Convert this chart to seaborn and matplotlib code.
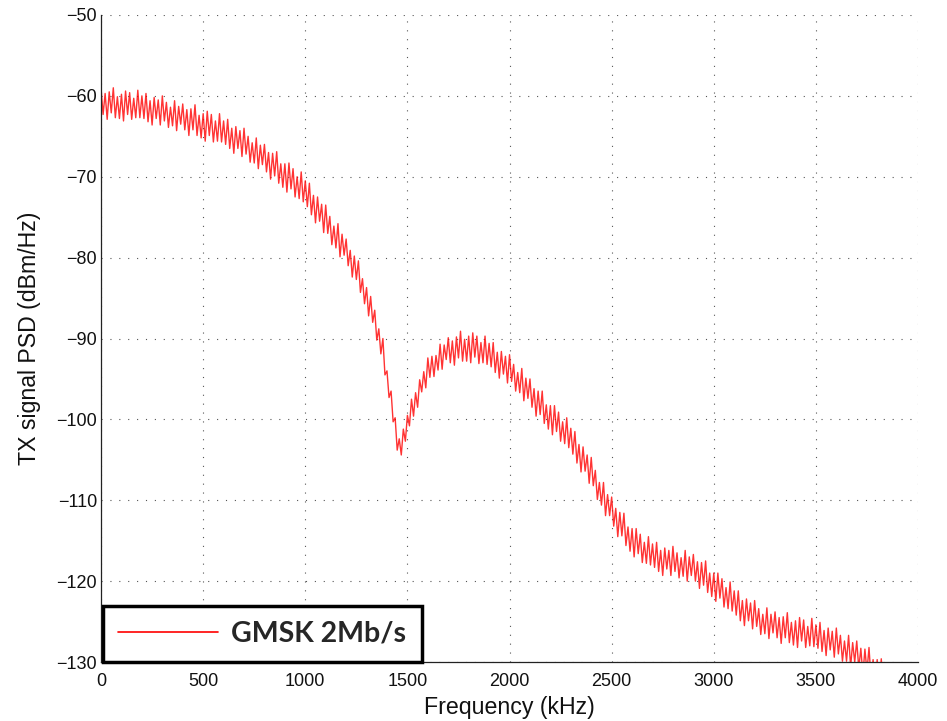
import numpy as np
import matplotlib
matplotlib.use("Agg")
import matplotlib.pyplot as plt
import seaborn as sns

freq_khz = np.arange(0, 3841, 10)
psd_dbm = [
    -59.1, -62.3, -59.7, -62.9, -59.5, -62.1, -59.0, -62.7, -60.1, -62.8,
    -59.8, -63.1, -59.4, -62.3, -59.6, -62.9, -60.3, -62.7, -59.3, -62.7,
    -60.0, -62.8, -59.7, -63.2, -60.6, -63.6, -60.2, -62.8, -60.5, -63.6,
    -60.0, -63.1, -60.8, -63.9, -61.4, -63.7, -60.6, -64.3, -61.3, -63.5,
    -61.0, -64.2, -61.7, -64.9, -61.6, -64.2, -61.1, -64.9, -62.4, -65.2,
    -62.2, -65.6, -61.9, -64.9, -62.3, -65.7, -63.1, -65.6, -62.2, -65.7,
    -63.1, -66.0, -62.9, -66.5, -64.0, -67.1, -63.8, -66.5, -64.3, -67.5,
    -64.0, -67.2, -65.0, -68.2, -65.8, -68.3, -65.2, -69.0, -66.1, -68.5,
    -66.0, -69.4, -67.0, -70.3, -67.1, -69.9, -66.9, -70.8, -68.4, -71.3,
    -68.4, -71.9, -68.3, -71.5, -69.0, -72.5, -70.0, -72.7, -69.4, -73.1,
    -70.5, -73.7, -70.8, -74.7, -72.3, -75.7, -72.5, -75.5, -73.4, -76.9,
    -73.5, -77.0, -74.9, -78.4, -76.1, -78.8, -75.8, -79.9, -77.1, -79.7,
    -77.7, -81.0, -79.1, -82.4, -79.8, -82.7, -80.4, -84.3, -82.6, -85.7,
    -83.7, -87.2, -84.8, -88.0, -86.5, -90.2, -88.8, -91.9, -90.0, -94.5,
    -94.0, -97.3, -96.5, -100.3, -99.8, -103.8, -102.4, -104.4, -101.2, -102.7,
    -99.5, -100.8, -97.5, -99.6, -96.7, -98.5, -95.1, -96.6, -94.1, -96.1,
    -92.4, -94.8, -92.2, -94.7, -92.1, -93.9, -90.7, -93.8, -90.8, -92.6,
    -89.9, -93.0, -90.3, -93.3, -89.8, -92.4, -89.1, -92.8, -90.1, -92.8,
    -89.7, -93.0, -89.3, -92.3, -89.7, -93.1, -90.5, -93.0, -89.7, -93.2,
    -90.6, -93.5, -90.5, -94.2, -91.7, -94.9, -91.6, -94.4, -92.2, -95.5,
    -92.0, -95.3, -93.2, -96.5, -94.2, -96.7, -93.7, -97.7, -94.9, -97.4,
    -95.0, -98.5, -96.2, -99.6, -96.5, -99.4, -96.5, -100.5, -98.2, -101.2,
    -98.3, -101.9, -98.3, -101.5, -99.1, -102.7, -100.3, -103.0, -99.8, -103.5,
    -101.1, -104.3, -101.5, -105.4, -103.1, -106.5, -103.4, -106.4, -104.4, -107.9,
    -104.7, -108.2, -106.3, -109.9, -107.8, -110.6, -107.8, -111.9, -109.3, -111.9,
    -109.6, -113.2, -111.0, -114.5, -111.5, -114.4, -111.6, -115.6, -113.3, -116.3,
    -113.5, -117.0, -113.5, -116.6, -114.2, -117.7, -115.2, -117.8, -114.5, -118.0,
    -115.4, -118.3, -115.2, -118.8, -116.2, -119.3, -115.9, -118.5, -116.2, -119.3,
    -115.7, -118.8, -116.5, -119.6, -117.1, -119.4, -116.2, -120.0, -117.0, -119.3,
    -116.7, -120.0, -117.6, -120.9, -117.7, -120.5, -117.5, -121.4, -119.0, -121.9,
    -119.0, -122.5, -119.0, -122.1, -119.7, -123.2, -120.8, -123.4, -120.1, -123.7,
    -121.2, -124.2, -121.2, -124.9, -122.4, -125.5, -122.2, -124.9, -122.7, -125.9,
    -122.4, -125.6, -123.4, -126.6, -124.1, -126.5, -123.3, -127.1, -124.1, -126.4,
    -123.8, -127.0, -124.5, -127.7, -124.4, -127.0, -123.9, -127.6, -125.1, -127.9,
    -124.9, -128.2, -124.5, -127.4, -124.8, -128.2, -125.6, -128.0, -124.6, -128.1,
    -125.4, -128.3, -125.1, -128.7, -126.1, -129.2, -125.8, -128.5, -126.2, -129.4,
    -125.8, -129.0, -126.7, -129.9, -127.4, -129.9, -126.7, -130.6, -127.6, -130.0,
    -127.4, -130.8, -128.3, -131.6, -128.4, -131.2, -128.2, -132.1, -129.7, -132.6,
    -129.7, -133.2, -129.6, -132.7, -130.2,
]
series_label = "GMSK 2Mb/s"
x_ticks = [0, 500, 1000, 1500, 2000, 2500, 3000, 3500, 4000]
y_ticks = [-130, -120, -110, -100, -90, -80, -70, -60, -50]

sns.set_style("white")
plt.rcParams["font.family"] = ["Liberation Sans", "DejaVu Sans"]

fig = plt.figure(figsize=(9.47, 7.21), dpi=100)
ax = fig.add_axes([0.1067, 0.0818, 0.8627, 0.8974])

sns.lineplot(x=freq_khz, y=psd_dbm, color="#ff0000", linewidth=1.0, alpha=0.8,
             label=series_label, estimator=None, sort=False, ax=ax)

ax.set_xlim(0, 4000)
ax.set_ylim(-130, -50)
ax.set_xticks(x_ticks)
ax.set_yticks(y_ticks)
ax.set_xticklabels([str(v) for v in x_ticks])
ax.set_yticklabels([f"\u2212{abs(v)}" for v in y_ticks])

ax.grid(True, color="#555555", linestyle=(0, (1, 7)), linewidth=0.8)
for side in ["top", "right"]:
    ax.spines[side].set_visible(False)
for side in ["left", "bottom"]:
    ax.spines[side].set_color("#222222")
    ax.spines[side].set_linewidth(0.9)
ax.tick_params(direction="in", length=5, width=0.8, color="#222222",
               labelsize=13, labelcolor="#111111")
ax.tick_params(axis="x", pad=8)
ax.tick_params(axis="y", pad=3)

ax.set_xlabel("Frequency (kHz)", fontsize=16.7, color="#111111")
ax.set_ylabel("TX signal PSD (dBm/Hz)", fontsize=16.7, color="#111111")
ax.xaxis.set_label_coords(0.5, -0.053)
ax.yaxis.set_label_coords(-0.073, 0.5)

leg = ax.legend(loc="lower left", bbox_to_anchor=(0.0024, 0.0), borderaxespad=0,
                frameon=True, fancybox=False, edgecolor="black", framealpha=1,
                prop={"family": "Lato", "weight": "bold", "size": 20.5},
                handlelength=3.5, handletextpad=0.48, borderpad=0.53)
leg.get_frame().set_linewidth(2.5)
for line in leg.get_lines():
    line.set_linewidth(1.2)
    line.set_alpha(1.0)

fig.savefig("out.png", dpi=100)
